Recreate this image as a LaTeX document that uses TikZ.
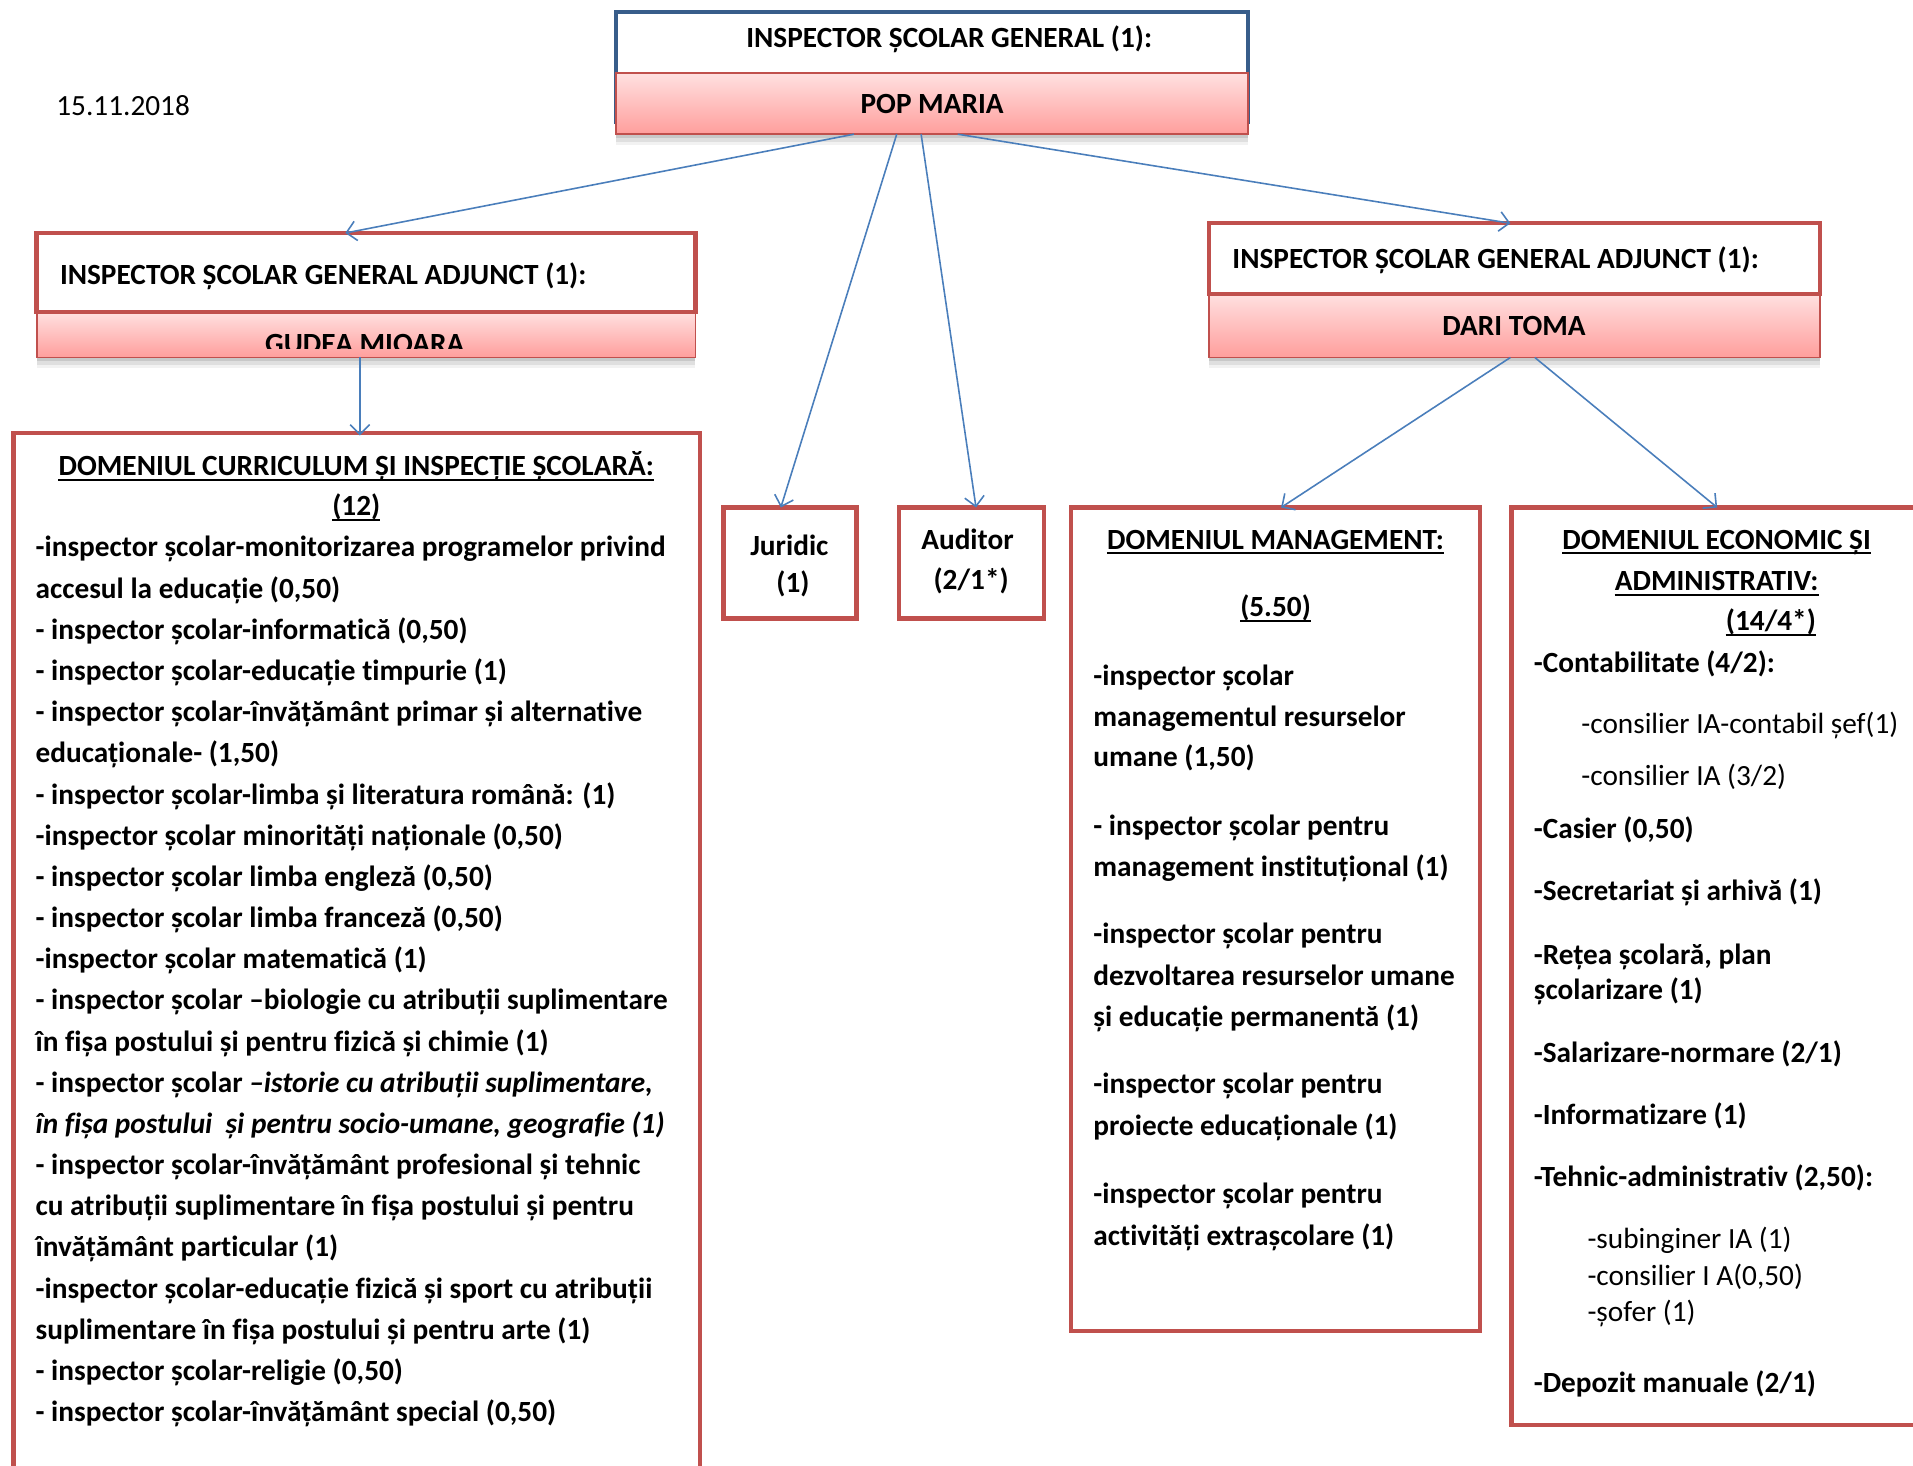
\documentclass[tikz,border=0pt]{standalone}
\usepackage{fontspec}
\setmainfont{Carlito}[Ligatures=NoCommon]
\usetikzlibrary{arrows.meta,calc,shadows}
\definecolor{boxred}{RGB}{192,80,77}
\definecolor{navy}{RGB}{56,93,138}
\definecolor{linkblue}{RGB}{74,126,187}
\definecolor{pinktop}{RGB}{255,224,224}
\definecolor{pinkbot}{RGB}{255,158,156}
\newcommand\fs{\fontsize{24}{29}\selectfont}
\begin{document}
\begin{tikzpicture}[x=1pt,y=-1pt,
  box/.style={rectangle, inner sep=0pt, outer sep=0pt, anchor=north west},
  redbox/.style={box, draw=boxred, line width=3.5pt},
  pinkbox/.style={box, draw=boxred, line width=1.5pt, top color=pinktop, bottom color=pinkbot,
     general shadow={fill=black, opacity=.10, shadow yshift=-3pt},
     general shadow={fill=black, opacity=.08, shadow yshift=-6pt},
     general shadow={fill=black, opacity=.05, shadow yshift=-9pt}},
  bt/.style={inner sep=0pt, font=\bfseries\fs, anchor=base west, yshift=-1.5pt},
  rt/.style={inner sep=0pt, font=\fs, anchor=base west, yshift=-1.5pt},
  ct/.style={inner sep=0pt, font=\bfseries\fs, anchor=base, yshift=-1.5pt},
  conn/.style={draw=linkblue, line width=1.3pt, -{Straight Barb[length=8pt,width=16pt,line width=1.3pt]}},
  ul/.style={line width=1.4pt}]
\useasboundingbox (0,0) rectangle (1568,1201);

% date
\node[rt] (date) at (46,93) {15.11.2018};

% top box
\node[box, draw=navy, line width=3.5pt, fill=white, minimum width=518pt, minimum height=90pt] (topw) at (505,10) {};
\node[pinkbox, minimum width=518pt, minimum height=50pt] (topp) at (505,60) {};
\node[ct] (toptitle) at (778,37.5) {INSPECTOR ȘCOLAR GENERAL (1):};
\node[ct] (topname) at (764,91.5) {POP MARIA};

% left adjunct
\node[pinkbox, minimum width=540pt, minimum height=37pt] (lname) at (30,256) {};
\node[redbox, fill=white, minimum width=540pt, minimum height=65pt] (ladj) at (30,191) {};
\node[bt] (ltitle) at (49,231.5) {INSPECTOR ȘCOLAR GENERAL ADJUNCT (1):};
\begin{scope}
  \clip (30,258) rectangle (570,286);
  \node[ct] (lnametext) at (299,288) {GUDEA MIOARA};
\end{scope}

% right adjunct
\node[pinkbox, minimum width=501pt, minimum height=52pt] (rname) at (991,241) {};
\node[redbox, fill=white, minimum width=501pt, minimum height=58pt] (radj) at (991,183) {};
\node[bt] (rtitle) at (1010,218.5) {INSPECTOR ȘCOLAR GENERAL ADJUNCT (1):};
\node[ct] (rnametext) at (1241,273.5) {DARI TOMA};

% lower boxes
\node[redbox, minimum width=563pt, minimum height=880pt] (cur) at (11,355) {};
\node[redbox, minimum width=109pt, minimum height=91pt] (jur) at (593,416) {};
\node[redbox, minimum width=119pt, minimum height=91pt] (aud) at (737,416) {};
\node[redbox, minimum width=335pt, minimum height=675pt] (man) at (878,416) {};
\node[redbox, minimum width=360pt, minimum height=752pt] (eco) at (1239,416) {};

% connectors
\draw[conn] ($(topp.south)+(-64,0)$) -- ($(ladj.north)+(-17,0)$);
\draw[conn] ($(topp.south)+(-29,0)$) -- ($(jur.north)+(-7.5,0)$);
\draw[conn] ($(topp.south)+(-9,0)$) -- ($(aud.north)+(3.5,0)$);
\draw[conn] ($(topp.south)+(21,0)$) -- ($(radj.north)+(-3.5,0)$);
\draw[conn] ($(lname.south)+(-5,0)$) -- ($(cur.north)+(2.5,2)$);
\draw[conn] ($(rname.south)+(-3.5,0)$) -- ($(man.north)+(4.5,0)$);
\draw[conn] ($(rname.south)+(16.5,0)$) -- ($(eco.north)+(-11.5,0)$);

% curriculum
\node[ct] (curh1) at (292,388.5) {DOMENIUL CURRICULUM ȘI INSPECȚIE ȘCOLARĂ:};
\draw[ul] ($(curh1.base west)+(0,3.5)$) -- ($(curh1.base east)+(0,3.5)$);
\node[ct] (curh2) at (292,421) {(12)};
\draw[ul] ($(curh2.base west)+(0,3.5)$) -- ($(curh2.base east)+(0,3.5)$);
\foreach \t [count=\i] in {
  {-inspector școlar-monitorizarea programelor privind},
  {accesul la educație (0,50)},
  {- inspector școlar-informatică (0,50)},
  {- inspector școlar-educație timpurie (1)},
  {- inspector școlar-învățământ primar și alternative},
  {educaționale- (1,50)},
  {- inspector școlar-limba și literatura română: (1)},
  {-inspector școlar minorități naționale (0,50)},
  {- inspector școlar limba engleză (0,50)},
  {- inspector școlar limba franceză (0,50)},
  {-inspector școlar matematică (1)},
  {- inspector școlar –biologie cu atribuții suplimentare},
  {în fișa postului și pentru fizică și chimie (1)},
  {- inspector școlar \textit{–istorie cu atribuții suplimentare,}},
  {\textit{în fișa postului\ \ și pentru socio-umane, geografie (1)}},
  {- inspector școlar-învățământ profesional și tehnic},
  {cu atribuții suplimentare în fișa postului și pentru},
  {învățământ particular (1)},
  {-inspector școlar-educație fizică și sport cu atribuții},
  {suplimentare în fișa postului și pentru arte (1)},
  {- inspector școlar-religie (0,50)},
  {- inspector școlar-învățământ special (0,50)}}
  \node[bt] (cl\i) at (29,{455+33.75*(\i-1)}) {\t};

% juridic / auditor
\node[ct] (jur1) at (647,454) {Juridic};
\node[ct] (jur2) at (650,484) {(1)};
\node[ct] (aud1) at (793,448.5) {Auditor};
\node[ct] (aud2) at (796,482) {(2/1*)};

% management
\node[ct] (manh1) at (1045.5,448.5) {DOMENIUL MANAGEMENT:};
\draw[ul] ($(manh1.base west)+(0,3.5)$) -- ($(manh1.base east)+(0,3.5)$);
\node[ct] (manh2) at (1045.5,504) {(5.50)};
\draw[ul] ($(manh2.base west)+(0,3.5)$) -- ($(manh2.base east)+(0,3.5)$);
\foreach \t/\yy [count=\i] in {
  {-inspector școlar}/560,
  {managementul resurselor}/594,
  {umane (1,50)}/627,
  {- inspector școlar pentru}/683,
  {management instituțional (1)}/717,
  {-inspector școlar pentru}/772,
  {dezvoltarea resurselor umane}/806,
  {și educație permanentă (1)}/840,
  {-inspector școlar pentru}/895,
  {proiecte educaționale (1)}/929,
  {-inspector școlar pentru}/985,
  {activități extrașcolare (1)}/1019}
  \node[bt] (ml\i) at (896,\yy) {\t};

% economic
\node[ct] (ecoh1) at (1407,448.5) {DOMENIUL ECONOMIC ȘI};
\draw[ul] ($(ecoh1.base west)+(0,3.5)$) -- ($(ecoh1.base east)+(0,3.5)$);
\node[ct] (ecoh2) at (1407,482.5) {ADMINISTRATIV:};
\draw[ul] ($(ecoh2.base west)+(0,3.5)$) -- ($(ecoh2.base east)+(0,3.5)$);
\node[ct] (ecoh3) at (1451.5,515.5) {(14/4*)};
\draw[ul] ($(ecoh3.base west)+(0,3.5)$) -- ($(ecoh3.base east)+(0,3.5)$);
\foreach \t/\yy [count=\i] in {
  {-Contabilitate (4/2):}/550,
  {-Casier (0,50)}/686,
  {-Secretariat și arhivă (1)}/737,
  {-Rețea școlară, plan}/789,
  {școlarizare (1)}/818,
  {-Salarizare-normare (2/1)}/869,
  {-Informatizare (1)}/920,
  {-Tehnic-administrativ (2,50):}/971,
  {-Depozit manuale (2/1)}/1140}
  \node[bt] (eb\i) at (1257,\yy) {\t};
\node[rt] (er1) at (1296,600) {-consilier IA-contabil șef(1)};
\node[rt] (er2) at (1296,642) {-consilier IA (3/2)};
\node[rt] (er3) at (1301,1022) {-subinginer IA (1)};
\node[rt] (er4) at (1301,1052) {-consilier I A(0,50)};
\node[rt] (er5) at (1301,1082) {-șofer (1)};
\end{tikzpicture}
\end{document}
